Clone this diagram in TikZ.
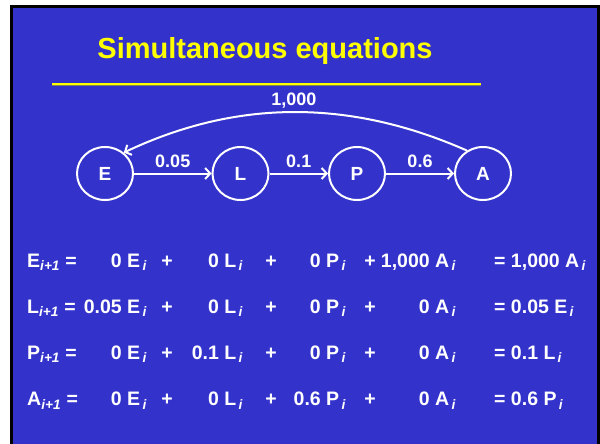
\documentclass[tikz,border=0pt]{standalone}
\usepackage{fontspec}
\setmainfont{Liberation Sans}
\usetikzlibrary{shapes.geometric,arrows.meta}

\definecolor{slideblue}{RGB}{51,51,204}
\definecolor{titleyellow}{RGB}{255,255,0}
\definecolor{ruleshade}{RGB}{130,130,90}

\newcommand{\ii}{\textsubscript{\itshape\,i}}
\newcommand{\inext}{\textsubscript{\itshape i+1}}

\tikzset{
    stage/.style={ellipse, draw=white, line width=2pt, minimum width=56pt,
        minimum height=53pt, inner sep=0pt, text=white,
        font=\bfseries\fontsize{19}{19}\selectfont},
    flow/.style={draw=white, line width=2pt,
        -{Straight Barb[length=5pt,width=11pt]}},
    rate/.style={text=white, font=\bfseries\fontsize{18}{18}\selectfont},
    term/.style={text=white, inner sep=0pt,
        font=\bfseries\fontsize{19.5}{19.5}\selectfont},
}

\begin{document}
\begin{tikzpicture}[x=1pt,y=-1pt]
    \useasboundingbox (0,0) rectangle (600,444);

    % Slide background
    \draw[black, line width=3pt, fill=slideblue] (11.5,6.5) rectangle (598.5,450);

    % Title
    \node[font=\bfseries\fontsize{29}{29}\selectfont, text=titleyellow, anchor=base] (title) at (265,59) {Simultaneous equations};
    \draw[ruleshade, line width=1.2pt] (52,85.8) -- (481,85.8);
    \draw[titleyellow, line width=2.4pt] (52,83.8) -- (481,83.8);

    % Life stages
    \def\stagey{173.5}
    \node[stage] (E) at (105,\stagey) {E};
    \node[stage] (L) at (240.5,\stagey) {L};
    \node[stage] (P) at (357,\stagey) {P};
    \node[stage] (A) at (483,\stagey) {A};

    % Transitions
    \draw[flow] (E) -- node[rate, above=1pt] (rEL) {0.05} (L);
    \draw[flow] (L) -- node[rate, above=1pt] (rLP) {0.1} (P);
    \draw[flow] (P) -- node[rate, above=1pt] (rPA) {0.6} (A);
    \draw[flow] (A.125) .. controls (350,99) and (237,99) .. node[rate, above=0pt] (rAE) {1,000} (E.48);

    % Equations, one row per stage
    \def\rowgap{46.3}
    \foreach \lhs/\ce/\cl/\cp/\ca/\res [count=\r from 0] in {
        E/0/0/0/{1,000}/{1,000 A},
        L/0.05/0/0/0/{0.05 E},
        P/0/0.1/0/0/{0.1 L},
        A/0/0/0.6/0/{0.6 P}} {
        \pgfmathsetmacro{\by}{267+\r*\rowgap}
        \node[term, anchor=base west] (lhs\r) at (27,\by) {\lhs\inext\ =};
        \node[term, anchor=base east] (ce\r) at (147,\by) {\ce\ E\ii};
        \node[term, anchor=base] (pa\r) at (167,\by) {+};
        \node[term, anchor=base east] (cl\r) at (243,\by) {\cl\ L\ii};
        \node[term, anchor=base] (pb\r) at (271,\by) {+};
        \node[term, anchor=base east] (cp\r) at (346,\by) {\cp\ P\ii};
        \node[term, anchor=base] (pc\r) at (370,\by) {+};
        \node[term, anchor=base east] (ca\r) at (456,\by) {\ca\ A\ii};
        \node[term, anchor=base west] (res\r) at (494,\by) {= \res\ii};
    }

\end{tikzpicture}
\end{document}
